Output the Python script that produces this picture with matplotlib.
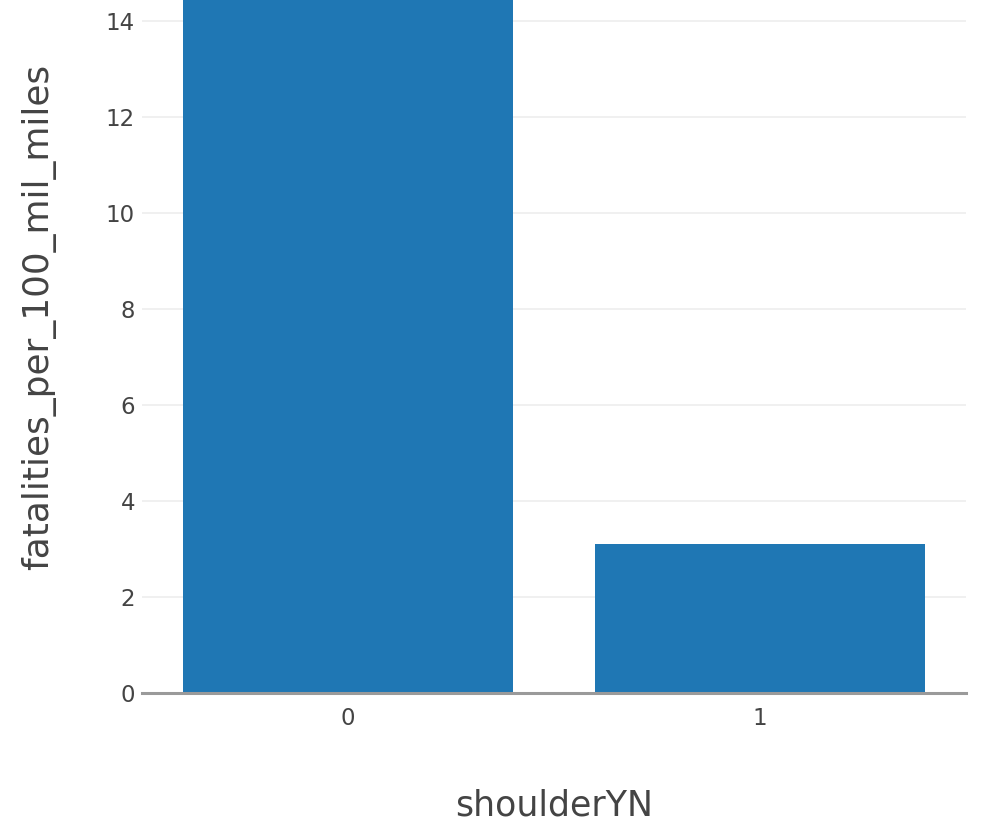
import matplotlib
matplotlib.use("Agg")
import matplotlib.pyplot as plt

categories = ["0", "1"]
values = [16.0, 3.1]
y_ticks = [0, 2, 4, 6, 8, 10, 12, 14]
x_title = "shoulderYN"
y_title = "fatalities_per_100_mil_miles"

plt.rcParams['font.family'] = ['DejaVu Sans']

fig = plt.figure(figsize=(9.81, 8.32), dpi=100)
ax = fig.add_axes([142/981, (832-693)/832, (966-142)/981, 693/832])

x = list(range(len(categories)))
ax.bar(x, values, width=0.8, color="#1f77b4", zorder=3)
ax.set_xlim(-0.5, len(categories) - 0.5)
ax.set_ylim(0, 14.44)
ax.set_xticks(x)
ax.set_xticklabels(categories)
ax.set_yticks(y_ticks)
ax.set_yticklabels([str(t) for t in y_ticks])

for s in ax.spines.values():
    s.set_visible(False)
ax.axhline(0, color="#9a9a9a", lw=2.2, zorder=4, clip_on=False)
ax.grid(axis="y", color="#eeeeee", lw=1.2, zorder=0)
ax.tick_params(axis="both", length=0, labelsize=16.5, colors="#444444")
ax.tick_params(axis="y", pad=5)
ax.tick_params(axis="x", pad=10)

ax.set_xlabel(x_title, fontsize=25, color="#444444", labelpad=42)
ax.set_ylabel(y_title, fontsize=25.8, color="#444444")
ax.yaxis.set_label_coords((56 - 142) / 824, (693 - 317) / 693)

fig.savefig("out.png", dpi=100)
